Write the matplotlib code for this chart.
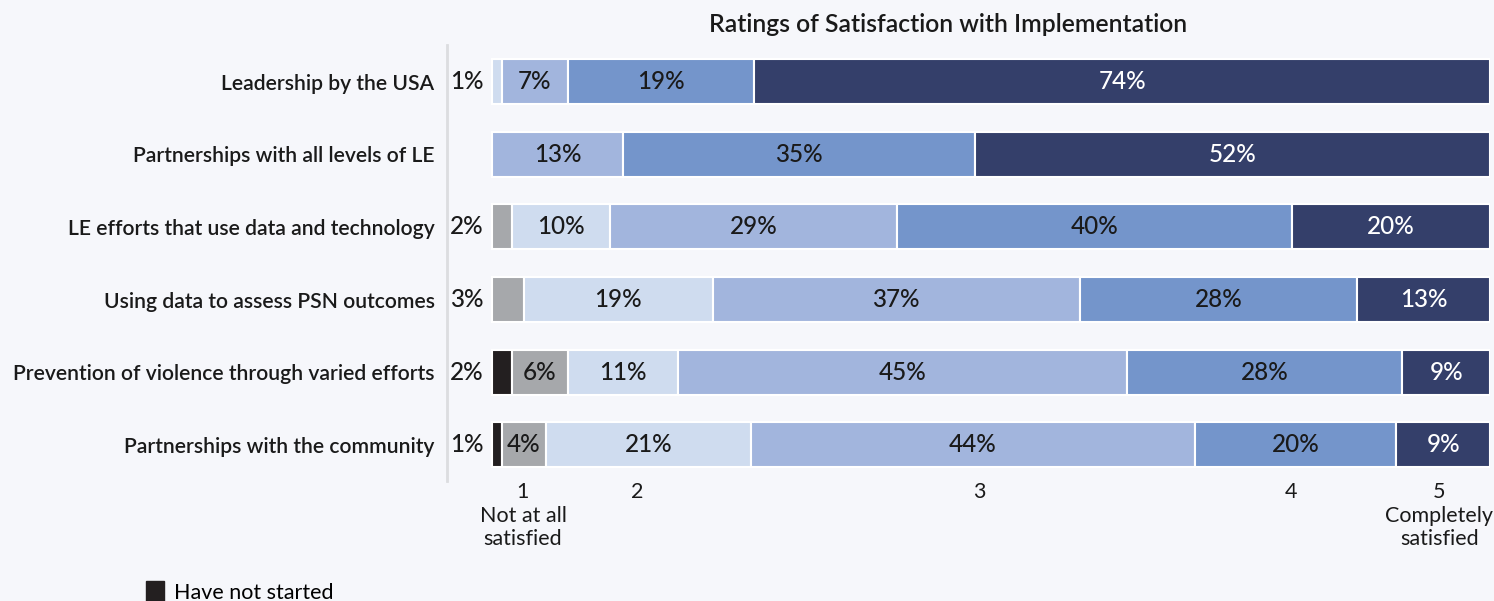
import matplotlib.pyplot as plt
from matplotlib.patches import Patch
import numpy as np

plt.rcParams['font.family'] = ['Lato', 'DejaVu Sans']

categories = [
    'Leadership by the USA',
    'Partnerships with all levels of LE',
    'LE efforts that use data and technology',
    'Using data to assess PSN outcomes',
    'Prevention of violence through varied efforts',
    'Partnerships with the community',
]

# share of answers per level, in %
not_started = [0.0, 0.0, 0.0, 0.0, 2.0, 1.0]
level_1 = [0.0, 0.0, 2.0, 3.2, 5.6, 4.4]
level_2 = [1.0, 0.0, 9.8, 18.9, 11.0, 20.6]
level_3 = [6.6, 13.1, 28.8, 36.8, 45.0, 44.4]
level_4 = [18.7, 35.3, 39.6, 27.8, 27.6, 20.2]
level_5 = [73.7, 51.6, 19.8, 13.3, 8.8, 9.4]

tick_pos = [3.1, 14.5, 48.8, 80.1, 94.9]
tick_labels = ['1\nNot at all\nsatisfied', '2', '3', '4', '5\nCompletely\nsatisfied']

series = [not_started, level_1, level_2, level_3, level_4, level_5]
colors = ['#231f20', '#a6a8ab', '#cfdcef', '#a2b5dd', '#7495cb', '#343f6a']
text_colors = ['#1a1a1a', '#1a1a1a', '#1a1a1a', '#1a1a1a', '#1a1a1a', 'white']

bg = '#f6f7fb'
fig = plt.figure(figsize=(14.94, 6.01), dpi=100, facecolor=bg)
ax = fig.add_axes([447 / 1494, 1 - 481 / 601, 1043 / 1494, 435.5 / 601])
ax.set_facecolor(bg)

y = np.arange(len(categories))
left = np.zeros(len(categories))
first_done = [False] * len(categories)
for vals, c, tc in zip(series, colors, text_colors):
    vals = np.array(vals)
    ax.barh(y, vals, left=left, height=0.62, color=c, edgecolor='white', linewidth=1.5)
    for i, v in enumerate(vals):
        if v <= 0:
            continue
        if not first_done[i] and v < 3.5:
            ax.text(-2.5, y[i], f'{v:.0f}%', ha='center', va='center',
                    fontsize=17.5, fontweight='medium', color='#1a1a1a')
        else:
            ax.text(left[i] + v / 2, y[i], f'{v:.0f}%', ha='center', va='center',
                    fontsize=17.5, fontweight='medium', color=tc)
        first_done[i] = True
    left += vals

ax.set_xlim(-4.51, 100)
ax.set_ylim(len(categories) - 0.5, -0.5)
ax.set_yticks(y)
ax.set_yticklabels(categories, fontsize=15.2, color='#1a1a1a', fontweight='semibold')
ax.tick_params(axis='y', length=0, pad=9)
ax.set_xticks(tick_pos)
ax.set_xticklabels(tick_labels, fontsize=15.5, color='#1a1a1a', linespacing=1.2)
ax.tick_params(axis='x', length=0, pad=1)

for s in ['top', 'right', 'bottom']:
    ax.spines[s].set_visible(False)
ax.spines['left'].set_color('#dcdde0')
ax.spines['left'].set_linewidth(2)

fig.text(948 / 1494, 1 - 24 / 601, 'Ratings of Satisfaction with Implementation',
         ha='center', va='center', fontsize=17.8, fontweight='semibold', color='#1a1a1a')

fig.legend(handles=[Patch(color=colors[0], label='Have not started')],
           loc='center left', bbox_to_anchor=(127 / 1494, 1 - 592 / 601),
           frameon=False, fontsize=15.5, handlelength=0.8, handleheight=1.0,
           handletextpad=0.5)

fig.savefig('out.png', dpi=100, facecolor=bg)
